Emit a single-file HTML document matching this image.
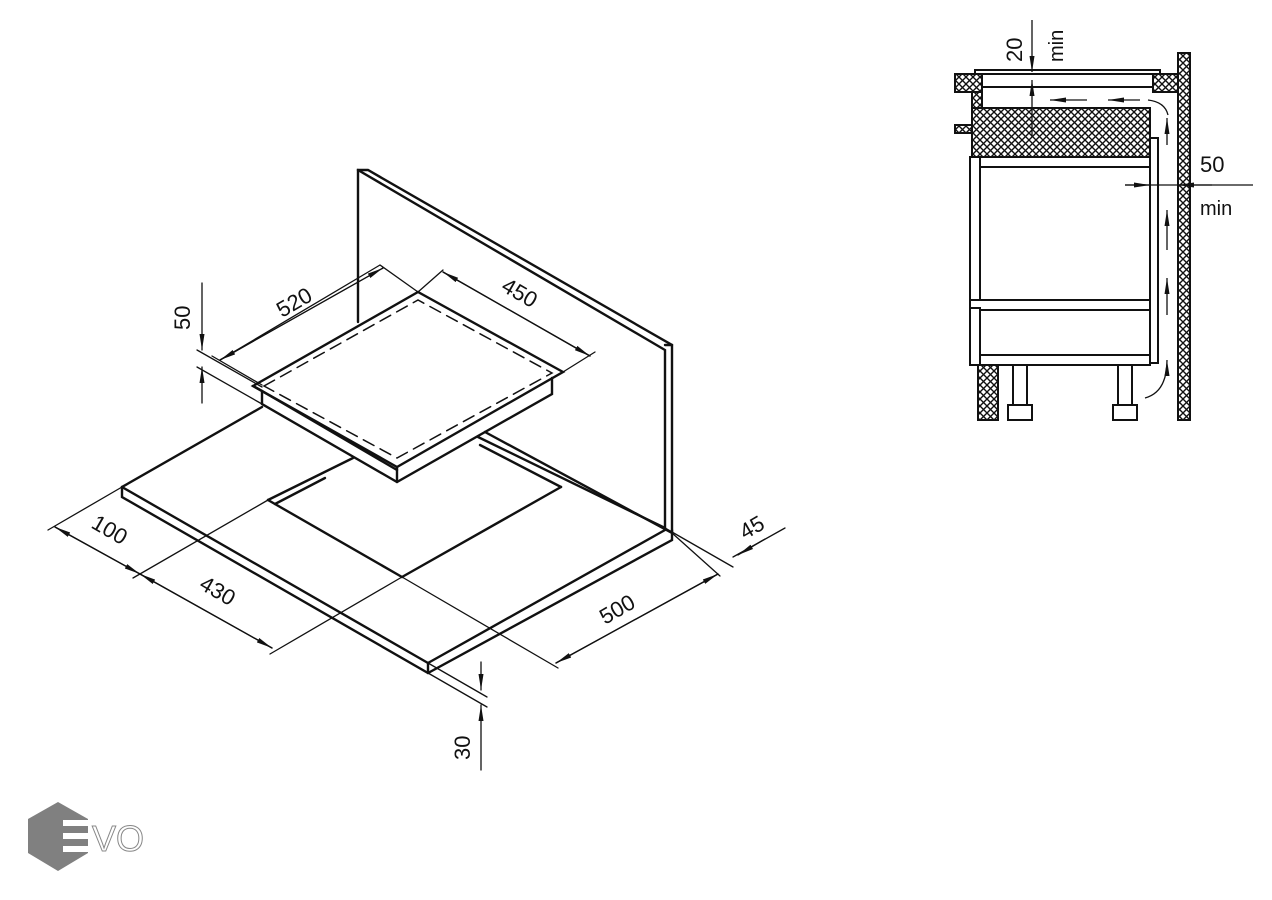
<!DOCTYPE html>
<html><head><meta charset="utf-8"><style>
html,body{margin:0;padding:0;background:#fff;}
svg{display:block}
text{font-family:"Liberation Sans",sans-serif;font-weight:300;fill:#111}
</style></head><body>
<svg width="1272" height="900" viewBox="0 0 1272 900" xmlns="http://www.w3.org/2000/svg">
<defs>
<pattern id="h" width="7" height="7" patternUnits="userSpaceOnUse">
<rect width="7" height="7" fill="#fff"/>
<path d="M0 0L7 7M7 0L0 7" stroke="#111" stroke-width="1.4"/>
</pattern>
<marker id="a" viewBox="0 0 16 6" refX="16" refY="3" markerWidth="16" markerHeight="6" orient="auto" markerUnits="userSpaceOnUse">
<path d="M0 0.5L16 3L0 5.5z" fill="#111"/></marker>
</defs>

<g stroke="#111" fill="none" stroke-linecap="round">
<!-- backsplash -->
<g stroke-width="2.4">
<polyline points="358,322 358,170 368,170 672,345 672,533"/>
<polyline points="358,170 665,350 665,528"/>
<line x1="665" y1="345" x2="672" y2="345"/>
</g>
<!-- countertop -->
<g stroke-width="2.4">
<polyline points="262,407 122,487 122,497 428,673 672,540 672,530"/>
<line x1="122" y1="487" x2="428" y2="663"/>
<line x1="428" y1="663" x2="428" y2="673"/>
<line x1="428" y1="663" x2="665" y2="530"/>
<line x1="478" y1="437" x2="665" y2="528"/>
<line x1="485" y1="432" x2="672" y2="533"/>
<polyline points="268,500 353,458"/>
<polyline points="275,504 325,478"/>
<line x1="268" y1="500" x2="402" y2="577"/>
<line x1="402" y1="577" x2="561" y2="487"/>
<line x1="480" y1="445" x2="561" y2="487"/>
</g>
<!-- hob -->
<g stroke-width="2.4">
<polygon points="253,386 418,292 563,372 397,467" fill="#fff"/>
<polyline points="253,386 262,391 262,404 397,482 552,394 552,378"/>
<line x1="262" y1="391" x2="397" y2="470"/>
<line x1="397" y1="467" x2="397" y2="482"/>
</g>
<polygon points="264,386 418,300 552,373 397,458" stroke-width="1.5" stroke-dasharray="12,7"/>

<g stroke-width="1.3">
<line x1="380" y1="265" x2="220" y2="360"/>
<line x1="220" y1="360" x2="383" y2="268" marker-end="url(#a)"/>
<line x1="383" y1="268" x2="220" y2="360" marker-end="url(#a)"/>
<line x1="212" y1="356" x2="262" y2="385"/>
<line x1="443" y1="270" x2="418" y2="292"/>
<line x1="380" y1="265" x2="418" y2="292"/>
<line x1="443" y1="272" x2="590" y2="356" marker-end="url(#a)"/>
<line x1="590" y1="356" x2="443" y2="272" marker-end="url(#a)"/>
<line x1="595" y1="352" x2="563" y2="372"/>
<line x1="202" y1="283" x2="202" y2="350" marker-end="url(#a)"/>
<line x1="202" y1="403" x2="202" y2="367" marker-end="url(#a)"/>
<line x1="197" y1="350" x2="262" y2="387"/>
<line x1="197" y1="367" x2="262" y2="404"/>
<line x1="122" y1="487" x2="48" y2="530"/>
<line x1="268" y1="500" x2="133" y2="578"/>
<line x1="402" y1="577" x2="270" y2="654"/>
<line x1="55" y1="527" x2="140" y2="574" marker-end="url(#a)"/>
<line x1="140" y1="574" x2="55" y2="527" marker-end="url(#a)"/>
<line x1="140" y1="574" x2="272" y2="648" marker-end="url(#a)"/>
<line x1="272" y1="648" x2="140" y2="574" marker-end="url(#a)"/>
<line x1="402" y1="577" x2="558" y2="668"/>
<line x1="672" y1="533" x2="720" y2="576"/>
<line x1="665" y1="528" x2="733" y2="567"/>
<line x1="556" y1="663" x2="718" y2="574" marker-end="url(#a)"/>
<line x1="718" y1="574" x2="556" y2="663" marker-end="url(#a)"/>
<line x1="785" y1="528" x2="733" y2="557" />
<line x1="765" y1="539" x2="738" y2="555" marker-end="url(#a)"/>
<line x1="428" y1="673" x2="487" y2="707"/>
<line x1="428" y1="663" x2="487" y2="697"/>
<line x1="481" y1="662" x2="481" y2="690" marker-end="url(#a)"/>
<line x1="481" y1="770" x2="481" y2="705" marker-end="url(#a)"/>
</g>
</g>
<g font-size="22">
<text transform="translate(282,318) rotate(-30)">520</text>
<text transform="translate(500,290) rotate(30)">450</text>
<text transform="translate(190,330) rotate(-90)">50</text>
<text transform="translate(90,527) rotate(30)">100</text>
<text transform="translate(198,588) rotate(30)">430</text>
<text transform="translate(605,625) rotate(-30)">500</text>
<text transform="translate(745,540) rotate(-30)">45</text>
<text transform="translate(470,760) rotate(-90)">30</text>
</g>

<!-- side section -->
<g stroke="#111" stroke-width="2" fill="#fff">
<rect x="1178" y="53" width="12" height="367" fill="url(#h)"/>
<rect x="975" y="70" width="185" height="4"/>
<rect x="955" y="74" width="27" height="18" fill="url(#h)"/>
<rect x="1153" y="74" width="25" height="18" fill="url(#h)"/>
<line x1="982" y1="87" x2="1153" y2="87"/>
<rect x="972" y="92" width="10" height="16" fill="url(#h)"/>
<rect x="955" y="125" width="17" height="8" fill="url(#h)"/>
<rect x="972" y="108" width="178" height="49" fill="url(#h)"/>
<rect x="970" y="157" width="180" height="208"/>
<rect x="970" y="157" width="10" height="143"/>
<rect x="970" y="308" width="10" height="57"/>
<line x1="980" y1="167" x2="1150" y2="167"/>
<line x1="980" y1="300" x2="1150" y2="300"/>
<line x1="980" y1="310" x2="1150" y2="310"/>
<line x1="980" y1="355" x2="1150" y2="355"/>
<polyline points="1150,138 1158,138 1158,363 1150,363" fill="none"/>
<rect x="978" y="365" width="20" height="55" fill="url(#h)"/>
<rect x="1013" y="365" width="14" height="40"/>
<rect x="1008" y="405" width="24" height="15"/>
<rect x="1118" y="365" width="14" height="40"/>
<rect x="1113" y="405" width="24" height="15"/>
</g>
<g stroke="#111" stroke-width="1.3" fill="none">
<line x1="1032" y1="20" x2="1032" y2="72" marker-end="url(#a)"/>
<line x1="1032" y1="137" x2="1032" y2="80" marker-end="url(#a)"/>
<line x1="1087" y1="100" x2="1050" y2="100" marker-end="url(#a)"/>
<line x1="1140" y1="100" x2="1108" y2="100" marker-end="url(#a)"/>
<path d="M1148 100 Q1165 102 1168 115"/>
<line x1="1167" y1="145" x2="1167" y2="118" marker-end="url(#a)"/>
<line x1="1167" y1="250" x2="1167" y2="210" marker-end="url(#a)"/>
<line x1="1167" y1="315" x2="1167" y2="278" marker-end="url(#a)"/>
<path d="M1145 398 Q1167 392 1167 360" marker-end="url(#a)"/>
<line x1="1125" y1="185" x2="1253" y2="185"/>
<line x1="1125" y1="185" x2="1150" y2="185" marker-end="url(#a)"/>
<line x1="1212" y1="185" x2="1178" y2="185" marker-end="url(#a)"/>
</g>
<g font-size="22">
<text transform="translate(1022,62) rotate(-90)">20</text>
<text transform="translate(1063,62) rotate(-90)" font-size="20">min</text>
<text x="1200" y="172">50</text>
<text x="1200" y="215" font-size="20">min</text>
</g>

<!-- logo -->
<polygon points="58,802 88,819 88,853 58,871 28,853 28,819" fill="#808080"/>
<rect x="63" y="820" width="28" height="6" fill="#fff"/>
<rect x="63" y="833" width="28" height="6" fill="#fff"/>
<rect x="63" y="846" width="28" height="6" fill="#fff"/>
<text x="92" y="851" font-size="36" style="fill:#fff;stroke:#888;stroke-width:1;font-weight:400">VO</text>
</svg>
</body></html>
